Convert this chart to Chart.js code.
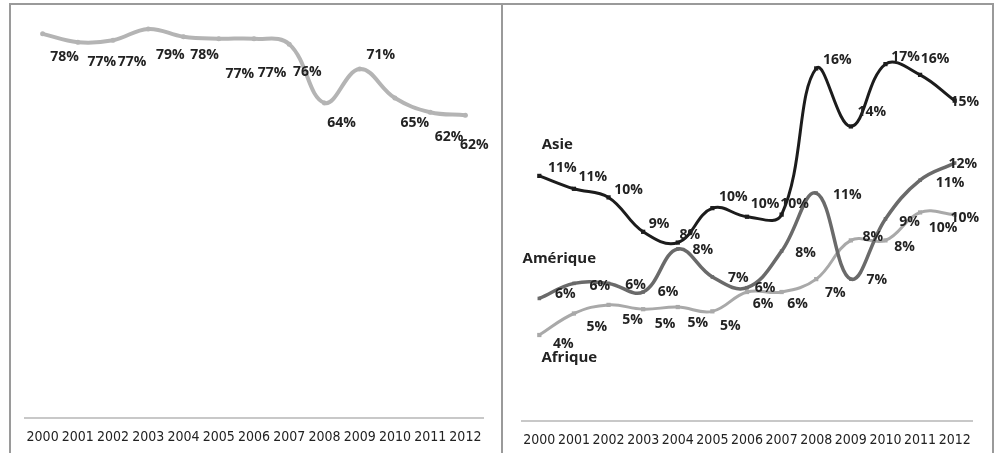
<!DOCTYPE html>
<html>
<head>
<meta charset="utf-8">
<script src="https://cdn.jsdelivr.net/npm/chart.js@4.4.0/dist/chart.umd.min.js"></script>
<style>
  html, body { margin: 0; padding: 0; background: #fff; }
  body { width: 998px; height: 453px; position: relative; overflow: hidden; }
  canvas { position: absolute; top: 0; }
  .trait { position: absolute; background: #9a9a9a; }
</style>
</head>
<body>
<canvas id="chartEurope" width="502" height="453" style="left:0"></canvas>
<canvas id="chartMonde" width="496" height="453" style="left:502px"></canvas>
<div class="trait" style="left:9px;top:3px;width:985px;height:2px"></div>
<div class="trait" style="left:9px;top:3px;width:2px;height:450px"></div>
<div class="trait" style="left:501px;top:3px;width:2px;height:450px"></div>
<div class="trait" style="left:992px;top:3px;width:2px;height:450px"></div>

<script>
// annees (axe x des deux graphiques)
const annees = ["2000","2001","2002","2003","2004","2005","2006","2007","2008","2009","2010","2011","2012"]

// parts en %
const partEurope   = [78.4, 76.7, 77.1, 79.4, 77.8, 77.4, 77.4, 76.3, 64.3, 71.2, 65.3, 62.4, 61.8]
const partAsie     = [11.4, 10.8, 10.4, 8.8, 8.3, 9.9, 9.5, 9.6, 16.4, 13.7, 16.6, 16.1, 14.9]
const partAmerique = [5.7, 6.4, 6.4, 6.0, 8.0, 6.7, 6.2, 7.9, 10.6, 6.6, 9.4, 11.2, 12.0]
const partAfrique  = [4.0, 5.0, 5.4, 5.2, 5.3, 5.1, 6.0, 6.0, 6.6, 8.4, 8.4, 9.7, 9.6]

// decalage des etiquettes par rapport au point (px)
const decalEuropeX   = [22, 24, 19, 22, 21, 21, 18, 18, 17, 21, 20, 19, 9]
const decalEuropeY   = [23, 20, 22, 26, 18, 35, 34, 28, 20, -14, 25, 25, 30]
const decalAsieX     = [23, 19, 20, 16, 12, 21, 18, 13, 21, 21, 20, 15, 10]
const decalAsieY     = [-8, -12, -7, -8, -8, -11, -13, -11, -8, -14, -7, -16, 1]
const decalAmeriqueX = [26, 26, 27, 25, 25, 26, 18, 24, 31, 26, 24, 30, 8]
const decalAmeriqueY = [-4, 3, 2, 0, 1, 1, 0, 2, 2, 1, 3, 3, 1]
const decalAfriqueX  = [24, 23, 24, 22, 20, 18, 16, 16, 19, 22, 19, 23, 10]
const decalAfriqueY  = [9, 14, 15, 15, 16, 15, 12, 12, 14, -3, 7, 16, 3]

const policeAxe = "'DejaVu Sans Condensed', sans-serif"

// dessine les % a cote des points + le nom de la serie
const etiquettes = {
    id: 'etiquettes',
    afterDatasetsDraw(chart) {
        const ctx = chart.ctx
        ctx.save()
        ctx.textAlign = 'center'
        ctx.textBaseline = 'middle'
        ctx.fillStyle = '#222'
        chart.data.datasets.forEach((ds, i) => {
            const pts = chart.getDatasetMeta(i).data
            ctx.font = 'bold 14px "Open Sans"'
            pts.forEach((p, j) => {
                ctx.fillText(Math.round(ds.data[j]) + '%', p.x + ds.decalX[j], p.y + ds.decalY[j])
            })
            if (ds.nomX !== undefined) {
                ctx.font = 'bold 15px "Open Sans"'
                ctx.fillText(ds.label, pts[0].x + ds.nomX, pts[0].y + ds.nomY)
            }
        })
        ctx.restore()
    }
}

function axeX(hauteur) {
    return {
        type: 'category',
        offset: true,
        grid: { display: false, drawTicks: false },
        border: { display: true, color: '#c8c8c8', width: 2 },
        ticks: {
            autoSkip: false, maxRotation: 0, minRotation: 0, padding: 11,
            color: '#222', font: { family: policeAxe, size: 14 }
        },
        afterFit: (scale) => { scale.height = hauteur }
    }
}

function serie(label, data, couleur, largeur, style, rayon, dx, dy) {
    return {
        label: label,
        data: data,
        borderColor: couleur,
        backgroundColor: couleur,
        borderWidth: largeur,
        tension: 0.4,
        pointStyle: style,
        pointRadius: rayon,
        pointBorderWidth: 0,
        decalX: dx,
        decalY: dy
    }
}

function dessiner() {
    const europe = serie('Europe', partEurope, '#b4b4b4', 4, 'circle', 2.5, decalEuropeX, decalEuropeY)

    new Chart(document.getElementById('chartEurope'), {
        type: 'line',
        data: { labels: annees, datasets: [europe] },
        options: {
            responsive: false,
            animation: false,
            layout: { padding: { left: 25, right: 19, top: 26, bottom: 0 } },
            plugins: { legend: { display: false }, tooltip: { enabled: false } },
            scales: {
                x: axeX(35),
                y: { display: false, min: 0, max: 80 }
            }
        },
        plugins: [etiquettes]
    })

    const asie = serie('Asie', partAsie, '#1c1c1c', 3, 'rect', 3, decalAsieX, decalAsieY)
    asie.nomX = 18; asie.nomY = -31
    const amerique = serie('Amérique', partAmerique, '#6a6a6a', 3.5, 'rect', 2.5, decalAmeriqueX, decalAmeriqueY)
    amerique.nomX = 20; amerique.nomY = -40
    const afrique = serie('Afrique', partAfrique, '#a9a9a9', 3, 'rect', 3, decalAfriqueX, decalAfriqueY)
    afrique.nomX = 30; afrique.nomY = 23

    new Chart(document.getElementById('chartMonde'), {
        type: 'line',
        data: { labels: annees, datasets: [asie, amerique, afrique] },
        options: {
            responsive: false,
            animation: false,
            layout: { padding: { left: 20, right: 26, top: 34, bottom: 0 } },
            plugins: { legend: { display: false }, tooltip: { enabled: false } },
            scales: {
                x: axeX(32),
                y: { display: false, min: 0, max: 18 }
            }
        },
        plugins: [etiquettes]
    })
}

Promise.all([
    document.fonts.load('bold 14px "Open Sans"'),
    document.fonts.load('14px "DejaVu Sans Condensed"')
]).then(dessiner, dessiner)
</script>
</body>
</html>
